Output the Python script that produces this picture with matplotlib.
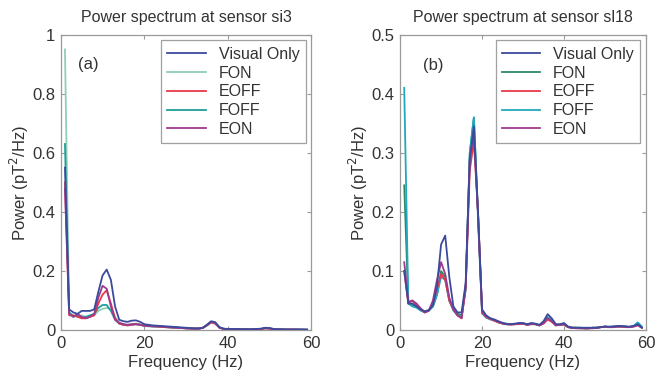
import matplotlib
matplotlib.use("Agg")
import matplotlib.pyplot as plt
from matplotlib.ticker import FuncFormatter

plt.rcParams['font.family'] = ['Liberation Sans', 'DejaVu Sans']

# Frequency bins (Hz)
freq = list(range(1, 60))

labels = ['Visual Only', 'FON', 'EOFF', 'FOFF', 'EON']

# Panel (a): sensor si3
vo_a = [0.55, 0.07, 0.06, 0.055, 0.065, 0.065, 0.065, 0.07, 0.13, 0.185,
        0.205, 0.17, 0.08, 0.035, 0.03, 0.028, 0.032, 0.033, 0.028, 0.02,
        0.018, 0.016, 0.015, 0.014, 0.013, 0.012, 0.011, 0.010, 0.009, 0.008,
        0.007, 0.006, 0.006, 0.008, 0.018, 0.030, 0.027, 0.010, 0.005, 0.004,
        0.004, 0.004, 0.003, 0.003, 0.003, 0.003, 0.004, 0.005, 0.008, 0.007,
        0.004, 0.003, 0.003, 0.002, 0.002, 0.002, 0.002, 0.002, 0.002]
fon_a = [0.95, 0.06, 0.05, 0.045, 0.05, 0.045, 0.045, 0.05, 0.065, 0.072,
         0.075, 0.07, 0.045, 0.025, 0.02, 0.018, 0.02, 0.022, 0.02, 0.015,
         0.014, 0.013, 0.012, 0.012, 0.011, 0.010, 0.009, 0.008, 0.007, 0.006,
         0.006, 0.005, 0.005, 0.007, 0.015, 0.025, 0.022, 0.009, 0.004, 0.003,
         0.003, 0.003, 0.003, 0.002, 0.002, 0.003, 0.003, 0.004, 0.006, 0.005,
         0.003, 0.002, 0.002, 0.002, 0.002, 0.002, 0.002, 0.002, 0.002]
eoff_a = [0.50, 0.05, 0.05, 0.045, 0.04, 0.04, 0.045, 0.05, 0.09, 0.12,
          0.135, 0.09, 0.04, 0.022, 0.018, 0.016, 0.018, 0.02, 0.018, 0.015,
          0.014, 0.013, 0.012, 0.011, 0.010, 0.009, 0.009, 0.008, 0.007, 0.006,
          0.005, 0.005, 0.005, 0.007, 0.016, 0.026, 0.022, 0.008, 0.004, 0.003,
          0.003, 0.003, 0.003, 0.003, 0.002, 0.002, 0.003, 0.004, 0.006, 0.005,
          0.003, 0.002, 0.002, 0.002, 0.002, 0.002, 0.001, 0.001, 0.001]
foff_a = [0.63, 0.06, 0.045, 0.05, 0.04, 0.045, 0.05, 0.055, 0.075, 0.085,
          0.085, 0.065, 0.035, 0.022, 0.018, 0.016, 0.018, 0.02, 0.018, 0.014,
          0.013, 0.012, 0.012, 0.011, 0.010, 0.009, 0.008, 0.008, 0.007, 0.006,
          0.005, 0.005, 0.005, 0.007, 0.016, 0.027, 0.023, 0.008, 0.004, 0.003,
          0.003, 0.003, 0.003, 0.002, 0.002, 0.002, 0.003, 0.004, 0.006, 0.005,
          0.003, 0.002, 0.002, 0.002, 0.002, 0.002, 0.002, 0.001, 0.001]
eon_a = [0.48, 0.055, 0.045, 0.055, 0.045, 0.04, 0.045, 0.055, 0.11, 0.15,
         0.14, 0.08, 0.035, 0.025, 0.02, 0.018, 0.02, 0.02, 0.018, 0.015,
         0.014, 0.013, 0.013, 0.012, 0.011, 0.010, 0.009, 0.008, 0.007, 0.006,
         0.006, 0.005, 0.005, 0.008, 0.017, 0.028, 0.024, 0.009, 0.004, 0.003,
         0.003, 0.003, 0.003, 0.003, 0.002, 0.003, 0.003, 0.004, 0.007, 0.006,
         0.003, 0.002, 0.002, 0.002, 0.002, 0.002, 0.002, 0.002, 0.001]

# Panel (b): sensor sl18
vo_b = [0.10, 0.045, 0.045, 0.04, 0.035, 0.032, 0.034, 0.042, 0.075, 0.145,
        0.16, 0.09, 0.04, 0.03, 0.03, 0.08, 0.29, 0.345, 0.20, 0.035,
        0.025, 0.02, 0.018, 0.015, 0.012, 0.010, 0.010, 0.011, 0.012, 0.012,
        0.010, 0.012, 0.011, 0.009, 0.015, 0.027, 0.02, 0.010, 0.010, 0.012,
        0.006, 0.004, 0.004, 0.004, 0.004, 0.004, 0.004, 0.004, 0.005, 0.006,
        0.006, 0.006, 0.007, 0.007, 0.006, 0.006, 0.007, 0.010, 0.004]
fon_b = [0.245, 0.045, 0.042, 0.04, 0.035, 0.03, 0.033, 0.04, 0.06, 0.10,
         0.09, 0.05, 0.035, 0.028, 0.025, 0.07, 0.30, 0.36, 0.20, 0.03,
         0.022, 0.019, 0.016, 0.013, 0.011, 0.010, 0.010, 0.010, 0.011, 0.011,
         0.009, 0.011, 0.010, 0.008, 0.012, 0.022, 0.017, 0.009, 0.009, 0.010,
         0.005, 0.004, 0.004, 0.004, 0.003, 0.003, 0.004, 0.004, 0.005, 0.006,
         0.005, 0.006, 0.006, 0.006, 0.006, 0.005, 0.007, 0.012, 0.005]
eoff_b = [0.10, 0.045, 0.05, 0.042, 0.035, 0.03, 0.033, 0.045, 0.07, 0.095,
          0.085, 0.05, 0.035, 0.025, 0.02, 0.07, 0.27, 0.32, 0.20, 0.03,
          0.022, 0.019, 0.016, 0.013, 0.011, 0.010, 0.009, 0.010, 0.010, 0.011,
          0.009, 0.010, 0.010, 0.008, 0.011, 0.018, 0.014, 0.008, 0.009, 0.009,
          0.005, 0.004, 0.003, 0.003, 0.003, 0.003, 0.003, 0.004, 0.005, 0.005,
          0.005, 0.005, 0.006, 0.006, 0.005, 0.005, 0.006, 0.008, 0.004]
foff_b = [0.41, 0.045, 0.04, 0.038, 0.033, 0.03, 0.033, 0.04, 0.06, 0.09,
          0.085, 0.05, 0.033, 0.025, 0.022, 0.07, 0.30, 0.36, 0.19, 0.028,
          0.021, 0.018, 0.016, 0.014, 0.012, 0.011, 0.010, 0.010, 0.011, 0.011,
          0.009, 0.010, 0.010, 0.008, 0.012, 0.021, 0.016, 0.008, 0.009, 0.010,
          0.005, 0.004, 0.004, 0.004, 0.003, 0.003, 0.004, 0.004, 0.005, 0.006,
          0.005, 0.006, 0.006, 0.006, 0.006, 0.005, 0.007, 0.013, 0.006]
eon_b = [0.115, 0.048, 0.05, 0.045, 0.037, 0.03, 0.033, 0.05, 0.085, 0.115,
         0.095, 0.055, 0.035, 0.025, 0.02, 0.075, 0.29, 0.33, 0.20, 0.032,
         0.023, 0.02, 0.017, 0.014, 0.012, 0.010, 0.010, 0.010, 0.011, 0.011,
         0.009, 0.011, 0.010, 0.008, 0.012, 0.02, 0.015, 0.008, 0.009, 0.010,
         0.005, 0.004, 0.004, 0.003, 0.003, 0.003, 0.004, 0.004, 0.005, 0.006,
         0.005, 0.005, 0.006, 0.006, 0.006, 0.005, 0.006, 0.009, 0.004]

colors_a = ['#3c4a9c', '#8fcfb8', '#e8384a', '#1f9e9a', '#9c3a8e']
colors_b = ['#3c4a9c', '#2a8a68', '#e8384a', '#22a8bc', '#9c3a8e']
zorders = [6, 2, 4, 3, 5]

panels = [
    dict(series=[vo_a, fon_a, eoff_a, foff_a, eon_a], colors=colors_a,
         title='Power spectrum at sensor si3', ymax=1.0,
         yticks=[0, 0.2, 0.4, 0.6, 0.8, 1.0], tag='(a)', tag_xy=(6.5, 0.9),
         rect=[0.091, 0.115, 0.375, 0.792]),
    dict(series=[vo_b, fon_b, eoff_b, foff_b, eon_b], colors=colors_b,
         title='Power spectrum at sensor sl18', ymax=0.5,
         yticks=[0, 0.1, 0.2, 0.3, 0.4, 0.5], tag='(b)', tag_xy=(8, 0.448),
         rect=[0.599, 0.115, 0.368, 0.792]),
]

txt = '#333333'
frame = '#9a9a9a'

fig = plt.figure(figsize=(6.68, 3.73), dpi=100)

for p in panels:
    ax = fig.add_axes(p['rect'])
    for s, lab, c, z in zip(p['series'], labels, p['colors'], zorders):
        ax.plot(freq, s, color=c, lw=1.3, label=lab, zorder=z)
    ax.set_xlim(0, 60)
    ax.set_ylim(0, p['ymax'])
    ax.set_xticks([0, 20, 40, 60])
    ax.set_yticks(p['yticks'])
    ax.yaxis.set_major_formatter(FuncFormatter(lambda v, pos: '%g' % v))
    ax.tick_params(direction='in', top=True, right=True, length=3,
                   color=frame, labelcolor=txt, labelsize=12, pad=4)
    for sp in ax.spines.values():
        sp.set_color(frame)
        sp.set_linewidth(0.9)
    ax.set_title(p['title'], fontsize=11.5, color=txt, pad=9)
    ax.set_xlabel('Frequency (Hz)', fontsize=12, color=txt, labelpad=3)
    ax.set_ylabel('Power (pT$^2$/Hz)', fontsize=12, color=txt, labelpad=1)
    ax.text(p['tag_xy'][0], p['tag_xy'][1], p['tag'], fontsize=12,
            color=txt, ha='center', va='center')
    leg = ax.legend(loc='upper right', fontsize=11.5, frameon=True,
                    fancybox=False, handlelength=2.4, borderaxespad=0.35,
                    labelspacing=0.24, handletextpad=0.8, borderpad=0.4)
    leg.get_frame().set_edgecolor('#888888')
    leg.get_frame().set_linewidth(0.9)
    for t in leg.get_texts():
        t.set_color(txt)

fig.savefig('out.png', dpi=100)
